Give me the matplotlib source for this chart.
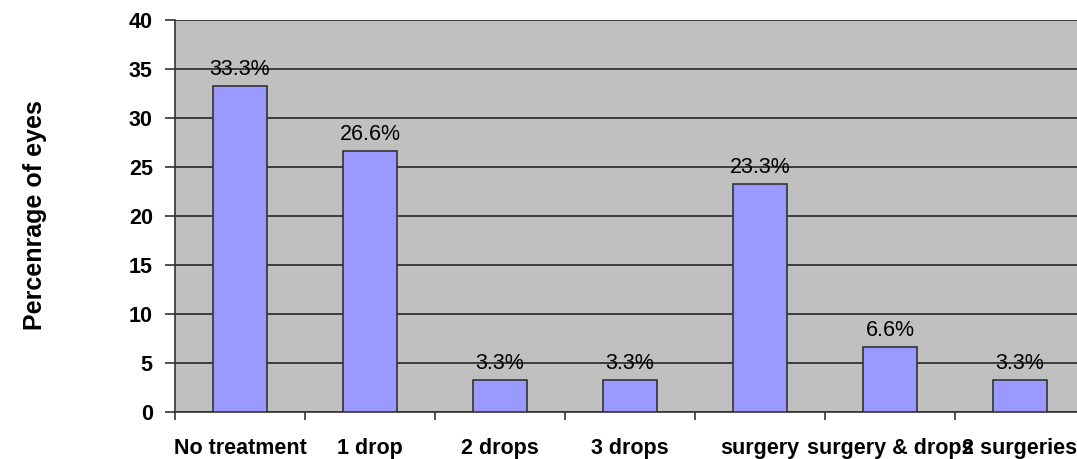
import matplotlib
matplotlib.use("Agg")
import matplotlib.pyplot as plt
import numpy as np

categories = ["No treatment", "1 drop", "2 drops", "3 drops",
              "surgery", "surgery & drops", "2 surgeries"]
values = [33.3, 26.6, 3.3, 3.3, 23.3, 6.6, 3.3]
yticks = [0, 5, 10, 15, 20, 25, 30, 35, 40]

plt.rcParams["font.family"] = ["Liberation Sans", "DejaVu Sans"]

fig = plt.figure(figsize=(10.77, 4.59), dpi=100)
ax = fig.add_axes([175 / 1077, 1 - 412 / 459, 910 / 1077, 392 / 459])
ax.set_facecolor("#C0C0C0")

x = np.arange(len(categories))
ax.bar(x, values, width=0.41, color="#9999FF", edgecolor="#333333",
       linewidth=1.2, zorder=3)

for xi, v in zip(x, values):
    ax.text(xi, v + 0.6, f"{v:.1f}%", ha="center", va="bottom",
            fontsize=15.5, color="black", zorder=4)

ax.set_xlim(-0.5, len(categories) - 0.5)
ax.set_ylim(0, 40)
ax.set_yticks(yticks)
ax.set_yticklabels([str(t) for t in yticks], fontsize=15.5, fontweight="bold")
ax.yaxis.grid(True, color="#333333", linewidth=1.3, zorder=1)
ax.set_axisbelow(True)

# category labels centred, tick marks between categories
ax.set_xticks(x)
ax.set_xticklabels(categories, fontsize=15.5, fontweight="bold")
ax.tick_params(axis="x", length=0, pad=19)
ax.set_xticks(np.arange(len(categories) + 1) - 0.5, minor=True)
ax.tick_params(axis="x", which="minor", length=6, width=1.2, color="#333333")
ax.tick_params(axis="y", length=7, width=1.2, color="#333333", pad=9)

for side in ["top", "right"]:
    ax.spines[side].set_visible(False)
ax.spines["left"].set_color("#333333")
ax.spines["bottom"].set_color("#333333")
ax.spines["left"].set_linewidth(1.2)
ax.spines["bottom"].set_linewidth(1.2)

fig.text(35 / 1077, 1 - 215 / 459, "Percenrage of eyes", rotation=90,
         ha="center", va="center", fontsize=18, fontweight="bold")

fig.savefig("out.png", dpi=100)
